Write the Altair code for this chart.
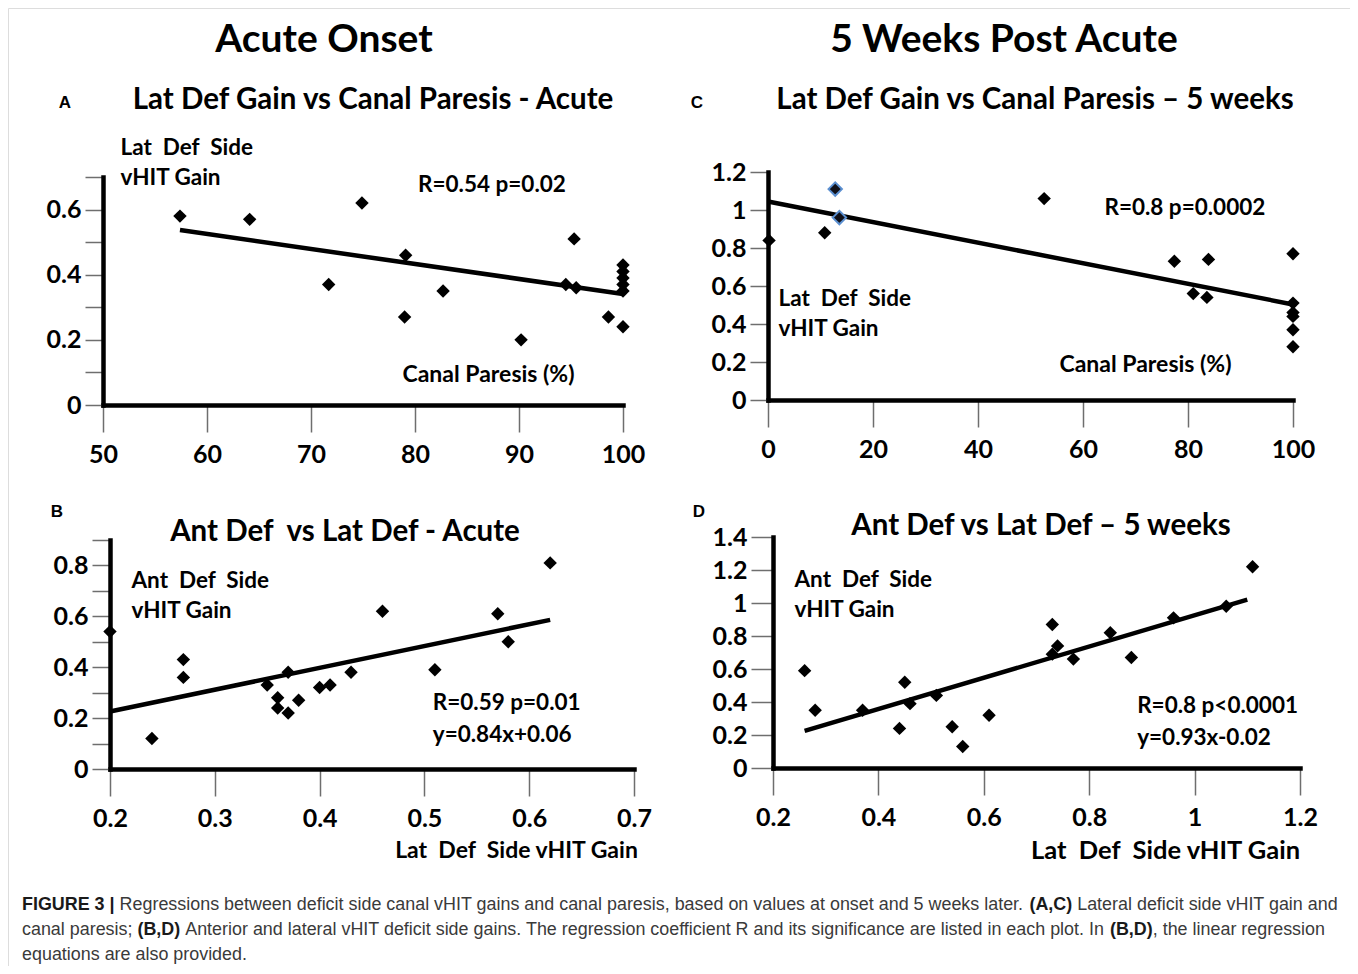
import altair as alt
import pandas as pd

# ---------------- data ----------------
# Panel A : lateral deficit side vHIT gain vs canal paresis (acute)
a_cp = [57.4, 64.1, 71.7, 74.9, 79.1, 79.0, 82.7, 90.2, 94.5, 95.3, 95.5, 98.6,
        100, 100, 100, 100, 100, 100]
a_gain = [0.58, 0.57, 0.37, 0.62, 0.46, 0.27, 0.35, 0.20, 0.37, 0.51, 0.36, 0.27,
          0.43, 0.41, 0.39, 0.37, 0.35, 0.24]
a_fit_x = [57.4, 100]
a_fit_y = [0.537, 0.341]

# Panel C : lateral deficit side vHIT gain vs canal paresis (5 weeks)
c_cp = [0.2, 10.8, 52.6, 77.4, 81.0, 83.9, 83.6, 100, 100, 100, 100, 100, 100]
c_gain = [0.84, 0.88, 1.06, 0.73, 0.56, 0.74, 0.54, 0.77, 0.51, 0.46, 0.44, 0.37, 0.28]
c_hl_cp = [12.8, 13.6]
c_hl_gain = [1.11, 0.96]
c_fit_x = [0, 100]
c_fit_y = [1.045, 0.503]

# Panel B : anterior vs lateral deficit side gain (acute)
b_lat = [0.20, 0.24, 0.27, 0.27, 0.35, 0.36, 0.36, 0.37, 0.37, 0.38, 0.40, 0.41,
         0.43, 0.46, 0.51, 0.57, 0.58, 0.62]
b_ant = [0.54, 0.12, 0.43, 0.36, 0.33, 0.28, 0.24, 0.38, 0.22, 0.27, 0.32, 0.33,
         0.38, 0.62, 0.39, 0.61, 0.50, 0.81]
b_fit_x = [0.2, 0.62]
b_fit_y = [0.226, 0.586]

# Panel D : anterior vs lateral deficit side gain (5 weeks)
d_lat = [0.26, 0.28, 0.37, 0.44, 0.45, 0.46, 0.51, 0.54, 0.56, 0.61, 0.73, 0.73,
         0.74, 0.77, 0.84, 0.88, 0.96, 1.06, 1.11]
d_ant = [0.59, 0.35, 0.35, 0.24, 0.52, 0.39, 0.44, 0.25, 0.13, 0.32, 0.87, 0.69,
         0.74, 0.66, 0.82, 0.67, 0.91, 0.98, 1.22]
d_fit_x = [0.26, 1.10]
d_fit_y = [0.225, 1.02]

# annotation texts (data coordinates of each panel)
a_notes = {"x": [87.4], "y": [0.675], "t": ["R=0.54 p=0.02"]}
c_notes = {"x": [79.4], "y": [1.01], "t": ["R=0.8 p=0.0002"]}
b_notes = {"x": [0.508, 0.508], "y": [0.259, 0.133], "t": ["R=0.59 p=0.01", "y=0.84x+0.06"]}
d_notes = {"x": [0.891, 0.891], "y": [0.376, 0.182], "t": ["R=0.8 p<0.0001", "y=0.93x-0.02"]}

NB = "\u00a0"  # keeps the double spaces of the original labels
lat_side = ["Lat" + NB + " Def" + NB + " Side", "vHIT Gain"]
ant_side = ["Ant" + NB + " Def" + NB + " Side", "vHIT Gain"]
lat_axis = "Lat" + NB + " Def" + NB + " Side vHIT Gain"

# ---------------- layout ----------------
W, H = 1342, 958
OX, OY = 8, 8
FONT = "Lato"
CAPFONT = "Liberation Sans"


def panel(px, py, fx, fy, notes, xdom, xpix, ydom, ypix, xvals, yvals, xfmt,
          xtitle, xtitle_xy, ytitle, ytitle_xy, ytick=18, note_align="center",
          hl=None, xtitle_size=23):
    xs = alt.Scale(domain=xdom, range=[xpix[0] - OX, xpix[1] - OX], nice=False, zero=False)
    ys = alt.Scale(domain=ydom, range=[ypix[0] - OY, ypix[1] - OY], nice=False, zero=False)
    x_axis_y = ypix[0] - OY
    y_axis_x = xpix[0] - OX
    xaxis = alt.Axis(
        orient="bottom", offset=x_axis_y - H, values=xvals, format=xfmt, grid=False,
        domainColor="black", domainWidth=4.5, domainCap="square",
        tickColor="#6e6e6e", tickWidth=1.5, tickSize=27,
        labelFont=FONT, labelFontWeight="bold", labelFontSize=25, labelColor="black",
        labelPadding=22, labelBaseline="middle", labelFlush=False, labelOverlap=False,
        title=xtitle, titleFont=FONT, titleFontWeight="bold", titleFontSize=xtitle_size,
        titleColor="black", titleX=xtitle_xy[0] - OX, titleY=xtitle_xy[1] - OY - x_axis_y,
        titleAlign="center", titleBaseline="middle", titleAngle=0)
    yaxis = alt.Axis(
        orient="left", offset=-y_axis_x, values=yvals, format="~g", grid=False,
        labelExpr="(round(datum.value*10) % 2 == 0) ? datum.label : ''",
        domainColor="black", domainWidth=4.5, domainCap="square",
        tickColor="#6e6e6e", tickWidth=1.5, tickSize=ytick,
        labelFont=FONT, labelFontWeight="bold", labelFontSize=25, labelColor="black",
        labelPadding=4, labelBaseline="middle", labelFlush=False, labelOverlap=False,
        title=ytitle, titleFont=FONT, titleFontWeight="bold", titleFontSize=22.5,
        titleColor="black", titleX=ytitle_xy[0] - xpix[0], titleY=ytitle_xy[1] - OY + 8,
        titleAlign="left", titleBaseline="alphabetic", titleAngle=0, titleLineHeight=30)
    pts = alt.Chart(pd.DataFrame({"x": px, "y": py})).mark_point(
        shape="diamond", filled=True, size=180, color="black", opacity=1
    ).encode(x=alt.X("x:Q", scale=xs, axis=xaxis), y=alt.Y("y:Q", scale=ys, axis=yaxis))
    fit = alt.Chart(pd.DataFrame({"x": fx, "y": fy})).mark_line(
        color="black", strokeWidth=4.5
    ).encode(x=alt.X("x:Q", scale=xs, axis=None), y=alt.Y("y:Q", scale=ys, axis=None))
    note = alt.Chart(pd.DataFrame(notes)).mark_text(
        font=FONT, fontWeight="bold", fontSize=22.5, align=note_align, baseline="middle",
        color="black"
    ).encode(x=alt.X("x:Q", scale=xs, axis=None), y=alt.Y("y:Q", scale=ys, axis=None),
             text="t:N")
    layers = [fit, pts, note]
    if hl is not None:
        layers.append(alt.Chart(pd.DataFrame({"x": hl[0], "y": hl[1]})).mark_point(
            shape="diamond", filled=True, size=180, fill="#101018", stroke="#5b8fd0",
            strokeWidth=2, opacity=1
        ).encode(x=alt.X("x:Q", scale=xs, axis=None), y=alt.Y("y:Q", scale=ys, axis=None)))
    return layers


def label(s, x, y, size, font=FONT, weight="bold", align="left", color="black"):
    return alt.Chart(pd.DataFrame({"t": [s]})).mark_text(
        font=font, fontWeight=weight, fontSize=size, align=align, baseline="middle",
        color=color
    ).encode(x=alt.value(x - OX), y=alt.value(y - OY), text="t:N")


tick01 = lambda top: [round(i * 0.1, 1) for i in range(int(round(top * 10)) + 1)]
tick02 = lambda top: [round(i * 0.2, 1) for i in range(int(round(top * 5)) + 1)]

layers = []
layers += panel(a_cp, a_gain, a_fit_x, a_fit_y, a_notes,
                [50, 100], [103, 623], [0, 0.7], [405, 177],
                [50, 60, 70, 80, 90, 100], tick01(0.7), "d",
                "Canal Paresis (%)", (488, 374), lat_side, (120, 146))
layers += panel(c_cp, c_gain, c_fit_x, c_fit_y, c_notes,
                [0, 100], [768, 1293], [0, 1.2], [400, 172],
                [0, 20, 40, 60, 80, 100], tick02(1.2), "d",
                "Canal Paresis (%)", (1145, 364), lat_side, (778, 297),
                hl=(c_hl_cp, c_hl_gain))
layers += panel(b_lat, b_ant, b_fit_x, b_fit_y, b_notes,
                [0.2, 0.7], [110, 634], [0, 0.9], [769, 540],
                [0.2, 0.3, 0.4, 0.5, 0.6, 0.7], tick01(0.9), ".1f",
                lat_axis, (516, 850), ant_side, (131, 579),
                note_align="left")
layers += panel(d_lat, d_ant, d_fit_x, d_fit_y, d_notes,
                [0.2, 1.2], [773, 1300], [0, 1.4], [768, 537],
                [0.2, 0.4, 0.6, 0.8, 1.0, 1.2], tick02(1.4), "~g",
                lat_axis, (1165, 850), ant_side, (794, 578),
                ytick=22, note_align="left", xtitle_size=25.5)

# headers, panel letters and titles
TS = 29.5
layers += [
    label("Acute Onset", 324, 40, 39, align="center"),
    label("5 Weeks Post Acute", 1004, 40, 39, align="center"),
    label("A", 65, 103, 17, font="Liberation Sans", align="center"),
    label("C", 697, 103, 17, font="Liberation Sans", align="center"),
    label("B", 57, 512, 17, font="Liberation Sans", align="center"),
    label("D", 699, 512, 17, font="Liberation Sans", align="center"),
    label("Lat Def Gain vs Canal Paresis - Acute", 373, 100, TS, align="center"),
    label("Lat Def Gain vs Canal Paresis \u2013 5 weeks", 1035, 100, TS, align="center"),
    label("Ant Def" + NB + " vs Lat Def - Acute", 345, 532, TS, align="center"),
    label("Ant Def vs Lat Def \u2013 5 weeks", 1041, 526, TS, align="center"),
]

# ---------------- caption: runs of bold / regular text ----------------
# Arial / Liberation Sans advance widths (1/1000 em)
REG = {" ": 278, ",": 278, ".": 278, ";": 278, "(": 333, ")": 333, "|": 260,
       "0": 556, "1": 556, "2": 556, "3": 556, "4": 556, "5": 556, "6": 556, "7": 556,
       "8": 556, "9": 556,
       "a": 556, "b": 556, "c": 500, "d": 556, "e": 556, "f": 278, "g": 556, "h": 556,
       "i": 222, "j": 222, "k": 500, "l": 222, "m": 833, "n": 556, "o": 556, "p": 556,
       "q": 556, "r": 333, "s": 500, "t": 278, "u": 556, "v": 500, "w": 722, "x": 500,
       "y": 500, "z": 500,
       "A": 667, "B": 667, "C": 722, "D": 722, "E": 667, "F": 611, "G": 778, "H": 722,
       "I": 278, "J": 500, "K": 667, "L": 556, "M": 833, "N": 722, "O": 778, "P": 667,
       "Q": 778, "R": 722, "S": 667, "T": 611, "U": 722, "V": 667, "W": 944, "X": 667,
       "Y": 667, "Z": 611}
BOLD = {" ": 278, ",": 278, "(": 333, ")": 333, "|": 280, "3": 556,
        "A": 722, "B": 722, "C": 722, "D": 722, "E": 667, "F": 611, "G": 778, "I": 278,
        "R": 722, "U": 722}


def em(s, bold):
    table = BOLD if bold else REG
    return sum(table.get(ch, 556) for ch in s) / 1000.0


cap_lines = [
    [("FIGURE 3 | ", True),
     ("Regressions between deficit side canal vHIT gains and canal paresis, based on values at onset and 5 weeks later. ", False),
     ("(A,C) ", True),
     ("Lateral deficit side vHIT gain and", False)],
    [("canal paresis; ", False),
     ("(B,D) ", True),
     ("Anterior and lateral vHIT deficit side gains. The regression coefficient R and its significance are listed in each plot. In ", False),
     ("(B,D)", True),
     (", the linear regression", False)],
    [("equations are also provided.", False)],
]
CAP_X0, CAP_X1 = 22, 1338
CAP_Y = [905, 930, 955]
CAPC = "#3a3a3a"
cap_size = (CAP_X1 - CAP_X0) / sum(em(s, b) for s, b in cap_lines[0])

for line, y in zip(cap_lines, CAP_Y):
    x = CAP_X0
    for s, b in line:
        layers.append(label(s, x, y, cap_size, font=CAPFONT,
                            weight="bold" if b else "normal",
                            color="#1a1a1a" if b else CAPC))
        x += em(s, b) * cap_size

chart = alt.layer(*layers).resolve_scale(
    x="independent", y="independent"
).resolve_axis(
    x="independent", y="independent"
).properties(
    width=W, height=H, padding=0, autosize=alt.AutoSizeParams(type="none")
).configure_view(stroke="#666666", strokeWidth=2).configure(background="white")

chart.save("out.html", embed_options={"renderer": "svg", "actions": False})
